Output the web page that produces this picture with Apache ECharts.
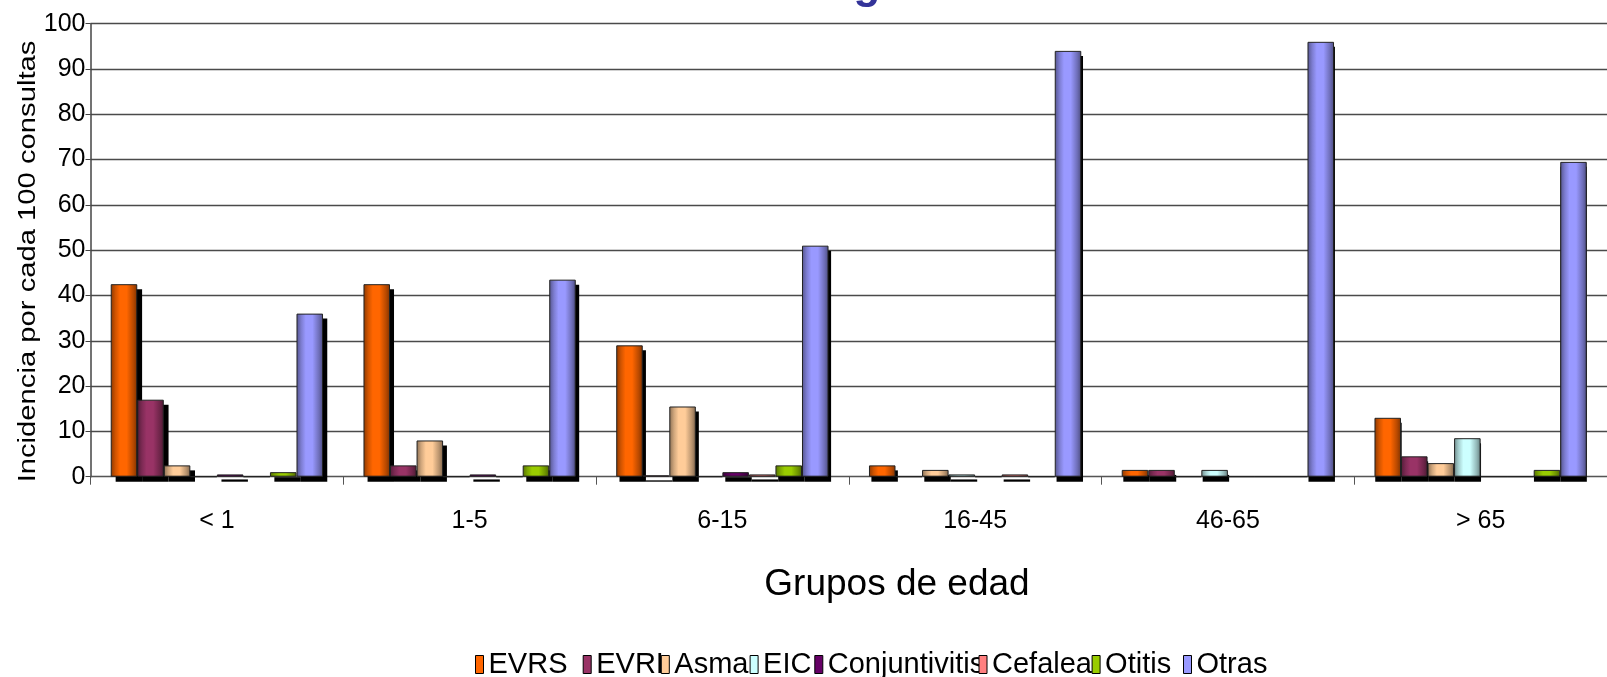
<!DOCTYPE html>
<html>
<head>
<meta charset="utf-8">
<script src="https://cdn.jsdelivr.net/npm/echarts@6/dist/echarts.min.js"></script>
<style>
  html, body { margin: 0; padding: 0; background: #fff; }
  #chart { width: 1607px; height: 677px; }
</style>
</head>
<body>
<div id="chart"></div>
<script>
// Age groups and incidence per 100 consultations for each condition
const categories = ['< 1', '1-5', '6-15', '16-45', '46-65', '> 65'];
const seriesNames = ['EVRS', 'EVRI', 'Asma', 'EIC', 'Conjuntivitis', 'Cefalea', 'Otitis', 'Otras'];
const evrs          = [42.5, 42.5, 29.0, 2.5, 1.5, 13.0];
const evri          = [17.0, 2.5, 0.3, 0, 1.5, 4.5];
const asma          = [2.5, 8.0, 15.5, 1.5, 0, 3.0];
const eic           = [0, 0, 0, 0.5, 1.5, 8.5];
const conjuntivitis = [0.5, 0.5, 1.0, 0, 0, 0];
const cefalea       = [0, 0, 0.5, 0.5, 0, 0];
const otitis        = [1.0, 2.5, 2.5, 0, 0, 1.5];
const otras         = [36.0, 43.5, 51.0, 94.0, 96.0, 69.5];
const yTicks = { min: 0, max: 100, interval: 10 };

const values = [evrs, evri, asma, eic, conjuntivitis, cefalea, otitis, otras];
const colors = ['#FF6600', '#993366', '#FFCC99', '#CCFFFF', '#660066', '#FF8080', '#99CC00', '#9999FF'];
// left edge of each legend swatch; labels run into the next swatch
const legendLefts = [475, 582.7, 660.8, 749.6, 814.3, 978.5, 1091.6, 1183];

function shade(hex, f) {
  const n = parseInt(hex.slice(1), 16);
  const r = Math.round(((n >> 16) & 255) * f);
  const g = Math.round(((n >> 8) & 255) * f);
  const b = Math.round((n & 255) * f);
  return 'rgb(' + r + ',' + g + ',' + b + ')';
}

// cylinder-like horizontal shading for each bar
function barFill(hex) {
  return new echarts.graphic.LinearGradient(0, 0, 1, 0, [
    { offset: 0.00, color: shade(hex, 0.55) },
    { offset: 0.18, color: shade(hex, 0.82) },
    { offset: 0.35, color: hex },
    { offset: 0.60, color: hex },
    { offset: 0.85, color: shade(hex, 0.72) },
    { offset: 1.00, color: shade(hex, 0.5) }
  ]);
}

const FONT = '"Liberation Sans", Arial, sans-serif';

// plot area; the drop-shadow grid is the same area moved 5px right and down
const plot = { left: 90.5, top: 23.7, width: 1527, height: 453 };
const SHADOW_DX = 5, SHADOW_DY = 5;

const chart = echarts.init(document.getElementById('chart'), null, { renderer: 'canvas' });

const barLayout = { barGap: '0%', barCategoryGap: '16%' };

const mainSeries = seriesNames.map((name, i) => Object.assign({
  name: name,
  type: 'bar',
  xAxisIndex: 0,
  yAxisIndex: 0,
  z: 3,
  data: values[i],
  itemStyle: {
    color: barFill(colors[i]),
    borderColor: '#222',
    borderWidth: 1
  }
}, barLayout));

const shadowSeries = seriesNames.map((name, i) => Object.assign({
  name: name + ' (sombra)',
  type: 'bar',
  xAxisIndex: 1,
  yAxisIndex: 1,
  z: 1,
  silent: true,
  data: values[i],
  itemStyle: { color: '#000', borderWidth: 0 }
}, barLayout));

// one legend block per series so each swatch sits at its own position
const legends = seriesNames.map((name, i) => ({
  left: legendLefts[i],
  top: 650,
  icon: 'rect',
  itemWidth: 8,
  itemHeight: 18,
  itemGap: 0,
  padding: 0,
  selectedMode: false,
  textStyle: { fontFamily: FONT, fontSize: 29, color: '#000' },
  itemStyle: { color: colors[i], borderColor: '#000', borderWidth: 1 },
  data: [name]
}));

chart.setOption({
  animation: false,
  backgroundColor: '#ffffff',
  grid: [
    { left: plot.left, top: plot.top, width: plot.width, height: plot.height },
    { left: plot.left + SHADOW_DX, top: plot.top + SHADOW_DY, width: plot.width, height: plot.height }
  ],
  xAxis: [
    {
      type: 'category',
      gridIndex: 0,
      data: categories,
      boundaryGap: true,
      axisLine: { show: true, lineStyle: { color: '#555', width: 1 } },
      axisTick: { show: true, interval: 0, length: 8, lineStyle: { color: '#555' } },
      axisLabel: { margin: 32, fontFamily: FONT, fontSize: 25, color: '#000' },
      splitLine: { show: false }
    },
    {
      type: 'category',
      gridIndex: 1,
      data: categories,
      boundaryGap: true,
      show: false
    }
  ],
  yAxis: [
    {
      type: 'value',
      gridIndex: 0,
      min: yTicks.min,
      max: yTicks.max,
      interval: yTicks.interval,
      axisLine: { show: true, lineStyle: { color: '#444', width: 1.5 } },
      axisTick: { show: true, inside: false, length: 5, lineStyle: { color: '#444' } },
      axisLabel: { margin: 5, fontFamily: FONT, fontSize: 25, color: '#000' },
      splitLine: { show: true, lineStyle: { color: '#4a4a4a', width: 1.4 } }
    },
    {
      type: 'value',
      gridIndex: 1,
      min: yTicks.min,
      max: yTicks.max,
      interval: yTicks.interval,
      show: false,
      splitLine: { show: false }
    }
  ],
  legend: legends,
  graphic: [
    {
      type: 'text',
      x: 719, y: -14,
      style: {
        text: 'Patologías',
        font: 'bold 44px ' + FONT,
        fill: '#333399',
        align: 'left',
        verticalAlign: 'middle'
      }
    },
    {
      type: 'text',
      x: 28.5, y: 261.5,
      rotation: Math.PI / 2,
      scaleX: 1.27,
      style: {
        text: 'Incidencia por cada 100 consultas',
        font: '23px ' + FONT,
        fill: '#000',
        align: 'center',
        verticalAlign: 'middle'
      }
    },
    {
      type: 'text',
      x: 897, y: 585,
      style: {
        text: 'Grupos de edad',
        font: '37px ' + FONT,
        fill: '#000',
        align: 'center',
        verticalAlign: 'middle'
      }
    }
  ],
  series: mainSeries.concat(shadowSeries)
});
</script>
</body>
</html>
